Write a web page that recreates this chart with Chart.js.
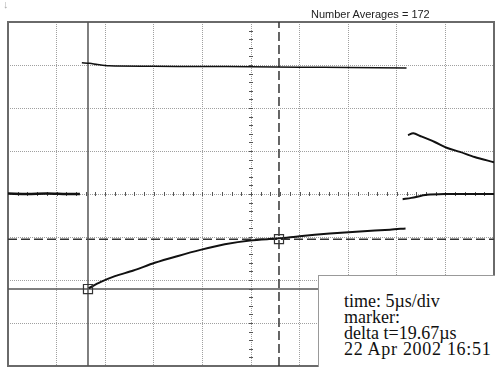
<!DOCTYPE html>
<html>
<head>
<meta charset="utf-8">
<script src="https://cdn.jsdelivr.net/npm/chart.js@4.4.0/dist/chart.umd.min.js"></script>
<style>
  body { margin: 0; background: #fff; }
  #wrap { position: relative; width: 495px; height: 367px; overflow: hidden; }
  canvas { display: block; }
  #arrow { position: absolute; left: 3px; top: -2px; font: 11px "Liberation Sans", sans-serif; color: #aaa; }
  #avg { position: absolute; left: 311px; top: 8px; font: 11px "Liberation Sans", Arial, sans-serif; color: #222; }
  #info { position: absolute; left: 318px; top: 275px; width: 200px; height: 120px; background: #fff; border: 1px solid #999; }
  #infoText { position: absolute; left: 344px; top: 293px; font: 18px "Liberation Serif", serif; line-height: 16px; color: #111; white-space: nowrap; }
  #infoText .date { letter-spacing: 0.7px; }
</style>
</head>
<body>
<div id="wrap">
  <canvas id="scope" width="495" height="367"></canvas>
  <div id="arrow">↓</div>
  <div id="avg">Number Averages = 172</div>
  <div id="info"></div>
  <div id="infoText">time: 5µs/div<br>marker:<br>delta t=19.67µs<br><span class="date">22 Apr 2002 16:51</span></div>
</div>
<script>
// time in µs (5 µs/div, 10 div), vertical in divisions (8 div)
const timeRange = [0, 50];
const voltRange = [-4, 4];

const topTraceT = [7.6, 8.4, 9.2, 10.4, 15, 20, 25, 30, 35, 41];
const topTraceV = [3.05, 3.04, 3.01, 2.98, 2.97, 2.965, 2.96, 2.95, 2.94, 2.93];

const baseLeftT = [0, 2, 4, 6, 7.4];
const baseLeftV = [0.01, 0, 0.01, 0, 0];
const baseRightT = [40.6, 41.5, 43.1, 45, 47.5, 50];
const baseRightV = [-0.12, -0.09, -0.02, 0, 0, 0];

const decayT = [41.15, 41.7, 42.4, 43.9, 45.2, 46.5, 48.0, 50];
const decayV = [1.37, 1.41, 1.35, 1.21, 1.07, 0.98, 0.86, 0.74];

const riseT = [8.3, 9.5, 11.0, 12.9, 15.1, 17.5, 19.8, 22.3, 24.9, 27.9, 30.0, 33.1, 36.2, 39.3, 40.9];
const riseV = [-2.19, -2.05, -1.91, -1.78, -1.60, -1.44, -1.30, -1.17, -1.08, -1.03, -0.98, -0.92, -0.87, -0.83, -0.80];

// cursors: [solid, dashed]
const cursorT = [8.23, 27.88];
const cursorV = [-2.21, -1.05];

const pts = (xs, ys) => xs.map((x, i) => ({ x: x, y: ys[i] }));

const trace = (data, width) => ({
  type: 'line', data: data, borderColor: '#111', borderWidth: width,
  pointRadius: 0, tension: 0.3, order: 1
});

const cursor = (data, dash, color) => ({
  type: 'line', data: data, borderColor: color, borderWidth: 1.5,
  borderDash: dash, pointRadius: 0, order: 3
});

// frame + small ticks on the centre lines
const scopePlugin = {
  id: 'scope',
  beforeDatasetsDraw(chart) {
    const { ctx, chartArea: a, scales: { x, y } } = chart;
    const y0 = y.getPixelForValue(0);
    const xc = x.getPixelForValue((timeRange[0] + timeRange[1]) / 2);
    ctx.save();
    ctx.strokeStyle = '#555';
    ctx.lineWidth = 1;
    ctx.beginPath();
    for (let t = timeRange[0]; t <= timeRange[1]; t += 1) {
      const px = Math.round(x.getPixelForValue(t)) + 0.5;
      ctx.moveTo(px, y0 - 2);
      ctx.lineTo(px, y0 + 2);
    }
    for (let v = voltRange[0]; v <= voltRange[1] + 0.01; v += 0.2) {
      const py = Math.round(y.getPixelForValue(v)) + 0.5;
      ctx.moveTo(xc - 2, py);
      ctx.lineTo(xc + 2, py);
    }
    ctx.stroke();
    ctx.strokeStyle = '#6a6a6a';
    ctx.lineWidth = 2;
    ctx.strokeRect(a.left, a.top, a.right - a.left, a.bottom - a.top);
    ctx.restore();
  }
};

new Chart(document.getElementById('scope'), {
  type: 'line',
  data: {
    datasets: [
      trace(pts(topTraceT, topTraceV), 1.5),
      trace(pts(baseLeftT, baseLeftV), 2.5),
      trace(pts(baseRightT, baseRightV), 2),
      trace(pts(decayT, decayV), 2),
      trace(pts(riseT, riseV), 2),
      cursor(pts([cursorT[0], cursorT[0]], voltRange), [], '#555'),
      cursor(pts(timeRange, [cursorV[0], cursorV[0]]), [], '#555'),
      cursor(pts([cursorT[1], cursorT[1]], voltRange), [9, 4], '#333'),
      cursor(pts(timeRange, [cursorV[1], cursorV[1]]), [9, 4], '#333'),
      {
        type: 'scatter', data: pts(cursorT, cursorV), pointStyle: 'rect',
        pointRadius: 6.4, borderColor: '#333', borderWidth: 1.2,
        backgroundColor: 'rgba(0,0,0,0)', order: 0
      }
    ]
  },
  options: {
    responsive: false,
    devicePixelRatio: 1,
    animation: false,
    layout: { autoPadding: false, padding: { left: 8, top: 22, right: 1, bottom: 1 } },
    plugins: { legend: { display: false }, tooltip: { enabled: false } },
    scales: {
      x: {
        type: 'linear', min: timeRange[0], max: timeRange[1],
        ticks: { display: false, stepSize: 5 },
        grid: { color: '#a0a0a0', lineWidth: 1, drawTicks: false },
        border: { display: false, dash: [1, 1] },
        afterFit: (s) => { s.height = 0; }
      },
      y: {
        type: 'linear', min: voltRange[0], max: voltRange[1],
        ticks: { display: false, stepSize: 1 },
        grid: { color: '#a0a0a0', lineWidth: 1, drawTicks: false },
        border: { display: false, dash: [1, 1] },
        afterFit: (s) => { s.width = 0; }
      }
    }
  },
  plugins: [scopePlugin]
});
</script>
</body>
</html>
